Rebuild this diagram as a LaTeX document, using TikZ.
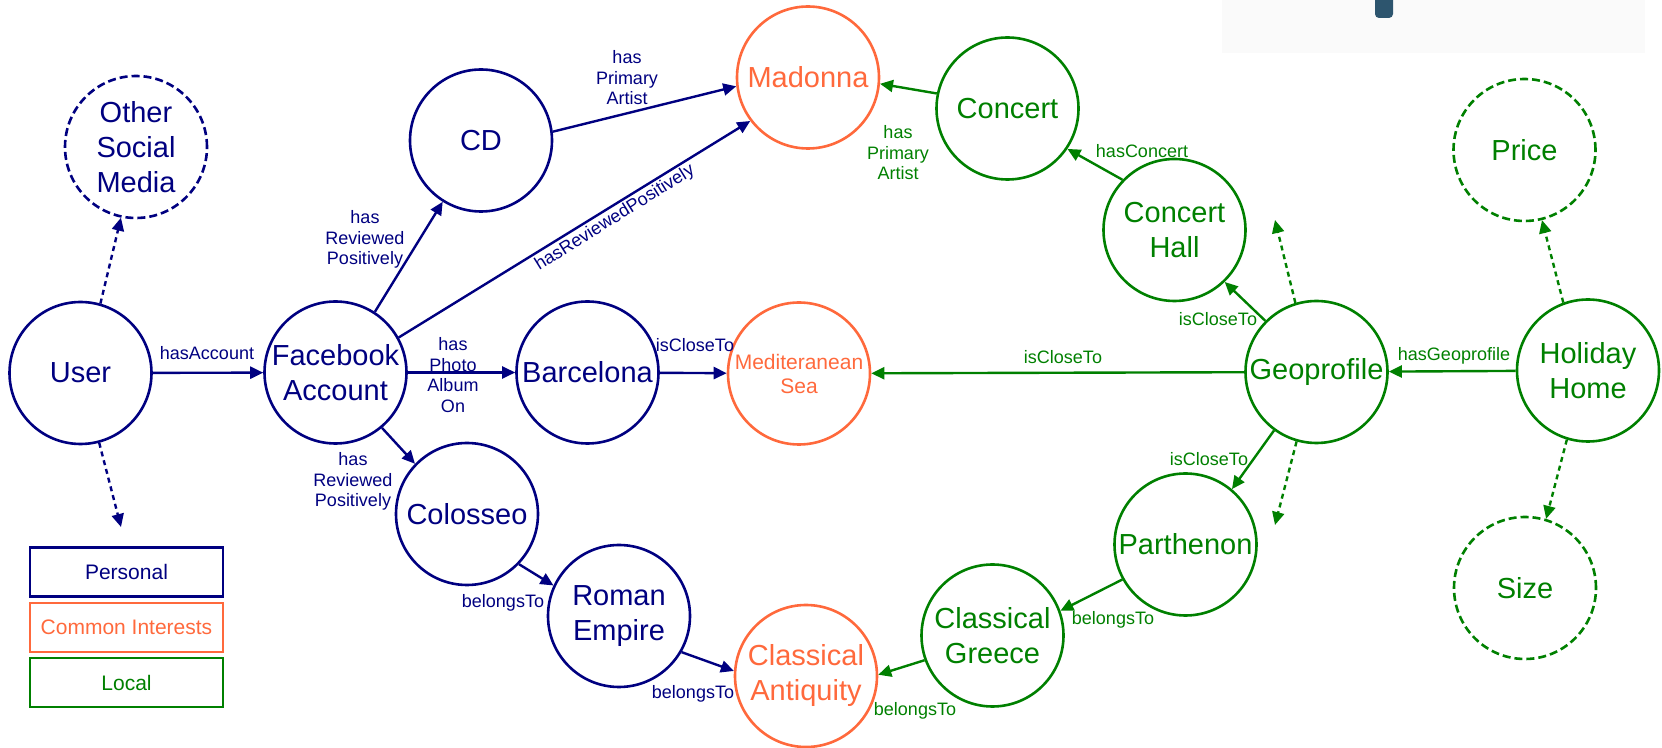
\documentclass[tikz,border=0pt]{standalone}
\usepackage{fontspec}
\setmainfont{Liberation Sans}
\usetikzlibrary{arrows.meta}
\definecolor{navy}{RGB}{0,0,128}
\definecolor{coral}{RGB}{255,105,60}
\definecolor{lgreen}{RGB}{0,128,0}
\definecolor{barblue}{RGB}{45,85,110}
\tikzset{
 ent/.style={circle, draw, line width=1.3pt, minimum size=71pt, inner sep=0pt, align=center, font=\fontsize{14.5pt}{17.5pt}\selectfont},
 pers/.style={ent, draw=navy, text=navy},
 comm/.style={ent, draw=coral, text=coral},
 loc/.style={ent, draw=lgreen, text=lgreen},
 dashcirc/.style={dash pattern=on 4pt off 2pt},
 rel/.style={line width=1.2pt, -{Triangle[length=6.5pt,width=6pt]}},
 opt/.style={rel, dash pattern=on 2.5pt off 2pt},
 lbl/.style={inner sep=0pt, align=center, font=\fontsize{9pt}{10.25pt}\selectfont},
 legendbox/.style={rectangle, draw, line width=1.3pt, minimum width=96.5pt, minimum height=24.5pt, inner sep=0pt, font=\fontsize{10.5pt}{12pt}\selectfont},
}
\begin{document}
\begin{tikzpicture}[x=0.5pt,y=-0.5pt]
\useasboundingbox (0,0) rectangle (1662,748);
% screenshot artefact top right
\fill[black!2] (1222,0) rectangle (1645,53);
\fill[barblue, rounded corners=2pt] (1375,-6) rectangle (1393,18);

% personal nodes
\node[pers] (user) at (80.5,373) {User};
\node[pers, dashcirc] (osm) at (136,147) {Other\\Social\\Media};
\node[pers] (fb) at (335.5,372.5) {Facebook\\Account};
\node[pers] (cd) at (481,140.5) {CD};
\node[pers] (bar) at (587.5,372.5) {Barcelona};
\node[pers] (col) at (467,514) {Colosseo};
\node[pers] (re) at (619,616) {Roman\\Empire};
% common interests
\node[comm] (mad) at (808,77.5) {Madonna};
\node[comm, font=\fontsize{10.5pt}{12pt}\selectfont] (med) at (799,373.5) {Mediteranean\\Sea};
\node[comm] (ca) at (806,676) {Classical\\Antiquity};
% local
\node[loc] (con) at (1007.5,108.5) {Concert};
\node[loc] (ch) at (1174.5,230) {Concert\\Hall};
\node[loc] (geo) at (1316.5,372) {Geoprofile};
\node[loc] (hh) at (1588,370.5) {Holiday\\Home};
\node[loc, dashcirc] (price) at (1524.5,150) {Price};
\node[loc, dashcirc] (size) at (1525,588) {Size};
\node[loc] (par) at (1185.5,544.5) {Parthenon};
\node[loc] (cg) at (992.5,635.5) {Classical\\Greece};

% free ends
\coordinate (userdown) at (121,527);
\coordinate (geoup) at (1275,220);
\coordinate (geodown) at (1275,525);

% personal connectors
\draw[rel, navy] (user) -- (fb);
\draw[opt, navy] (user.74) -- (osm.258);
\draw[opt, navy] (user.-75) -- (userdown);
\draw[rel, navy] (fb.57) -- (cd.238);
\draw[rel, navy] (fb.29) -- (mad.217);
\draw[rel, navy] (cd.7) -- (mad.187);
\draw[rel, navy] (fb) -- (bar);
\draw[rel, navy] (fb.-50) -- (col.136);
\draw[rel, navy] (bar) -- (med);
\draw[rel, navy] (col.-44) -- (re.155);
\draw[rel, navy] (re.-30) -- (ca.176);
% local connectors
\draw[rel, lgreen] (con.168) -- (mad.-5);
\draw[rel, lgreen] (ch.136) -- (con.-34);
\draw[rel, lgreen] (geo.135) -- (ch.-46);
\draw[rel, lgreen] (geo) -- (med);
\draw[rel, lgreen] (hh) -- (geo);
\draw[rel, lgreen] (geo.-126) -- (par.50);
\draw[rel, lgreen] (par.209) -- (cg.20);
\draw[rel, lgreen] (cg.200) -- (ca.1);
\draw[opt, lgreen] (geo.107) -- (geoup);
\draw[opt, lgreen] (geo.-106) -- (geodown);
\draw[opt, lgreen] (hh.110) -- (price.-76);
\draw[opt, lgreen] (hh.-107) -- (size.73);

% labels
\begin{scope}[every node/.style={lbl, text=navy}]
\node (lacc) at (207,353) {hasAccount};
\node (lrevcd) at (365,239.5) {has\\Reviewed\\Positively};
\node[rotate=32] (lrevmad) at (615,218) {hasReviewedPositively};
\node (lprimcd) at (627,78) {has\\Primary\\Artist};
\node (lphoto) at (453,375) {has\\Photo\\Album\\On};
\node (lrevcol) at (353,481.5) {has\\Reviewed\\Positively};
\node (lbelcol) at (503,603) {belongsTo};
\node (lbelre) at (693,694) {belongsTo};
\node (lclosebar) at (695,345) {isCloseTo};
\end{scope}
\begin{scope}[every node/.style={lbl, text=lgreen}]
\node (lprimcon) at (898,153) {has\\Primary\\Artist};
\node (lhascon) at (1142,151) {hasConcert};
\node (lclosech) at (1218,319) {isCloseTo};
\node (lclosemed) at (1063,357) {isCloseTo};
\node (lhasgeo) at (1454,356) {hasGeoprofile};
\node (lclosepar) at (1209,459) {isCloseTo};
\node (lbelpar) at (1113,620) {belongsTo};
\node (lbelcg) at (915,711) {belongsTo};
\end{scope}

% legend
\node[legendbox, draw=navy, text=navy] (lgp) at (126.5,572) {Personal};
\node[legendbox, draw=coral, text=coral] (lgc) at (126.5,627.5) {Common Interests};
\node[legendbox, draw=lgreen, text=lgreen] (lgl) at (126.5,682.5) {Local};
\end{tikzpicture}
\end{document}
